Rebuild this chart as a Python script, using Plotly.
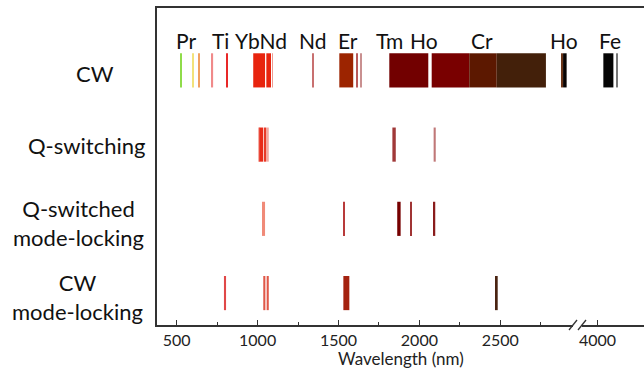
import plotly.graph_objects as go

# ---------------- data (wavelengths in nm) ----------------
rows = ["CW", "Q-switching", "Q-switched<br>mode-locking", "CW<br>mode-locking"]
row_pos = [3, 2, 1, 0]

# CW bands
cw_start = [521, 599, 636, 718, 805, 973, 1054, 1089, 1338, 1505, 1613, 1636,
            1814, 2076, 2308, 2478, 2881, 2888, 4036, 4117]
cw_end =   [528, 606, 643, 725, 813, 1046, 1083, 1094, 1344, 1591, 1619, 1642,
            2055, 2308, 2478, 2782, 2888, 2910, 4098, 4122]
cw_color = ["#8fdc4a", "#f2e27a", "#f0a060", "#f08a8a", "#e82828", "#e8240e",
            "#e8240e", "#f09a90", "#c87070", "#9c2400", "#b85a5a", "#c99090",
            "#720000", "#790000", "#5c1800", "#43200a", "#6a3418", "#080404",
            "#050505", "#777777"]

# Q-switching
qs_start = [1003, 1010, 1044, 1052, 1833, 2088]
qs_end =   [1010, 1035, 1052, 1069, 1854, 2101]
qs_color = ["#f4b0a8", "#e82a18", "#e83a28", "#f4a8a0", "#a03838", "#c07878"]

# Q-switched mode-locking
qsml_start = [1027, 1530, 1863, 1942, 2088]
qsml_end =   [1046, 1540, 1884, 1953, 2098]
qsml_color = ["#f08a78", "#b83a3a", "#760000", "#a03434", "#8a1c1c"]

# CW mode-locking
cwml_start = [792, 1035, 1056, 1530, 2473]
cwml_end =   [805, 1048, 1069, 1567, 2484]
cwml_color = ["#e04848", "#e05848", "#e05848", "#a42210", "#4a2412"]

# Element labels
elem_names = ["Pr", "Ti", "YbNd", "Nd", "Er", "Tm", "Ho", "Cr", "Ho", "Fe"]
elem_pos = [557, 768, 1021, 1339, 1559, 1818, 2028, 2387, 2894, 4077]

# axis ticks
main_ticks = [500, 1000, 1500, 2000, 2500]
break_ticks = [4000]

BREAK = 3000
FONT = "Lato"

fig = go.Figure()

series = [
    (3, cw_start, cw_end, cw_color),
    (2, qs_start, qs_end, qs_color),
    (1, qsml_start, qsml_end, qsml_color),
    (0, cwml_start, cwml_end, cwml_color),
]

for ypos, st, en, col in series:
    for axis, cond in (("x", lambda v: v < BREAK), ("x2", lambda v: v >= BREAK)):
        idx = [i for i, s in enumerate(st) if cond(s)]
        if not idx:
            continue
        fig.add_trace(go.Bar(
            orientation="h",
            y=[ypos] * len(idx),
            base=[st[i] for i in idx],
            x=[en[i] - st[i] for i in idx],
            marker=dict(color=[col[i] for i in idx], line=dict(width=0)),
            width=0.46,
            xaxis=axis, yaxis="y",
            showlegend=False, hoverinfo="skip",
        ))

# element labels
for name, pos in zip(elem_names, elem_pos):
    fig.add_annotation(x=pos, y=3.4, xref="x2" if pos >= BREAK else "x", yref="y",
                       text=name, showarrow=False,
                       font=dict(family=FONT, size=21, color="#111"))

# row labels (centre positions in pixels)
label_px = [95, 86, 78, 77]
label_shift = [-3, -1, -4, -4]
for name, ypos, lx, sh in zip(rows, row_pos, label_px, label_shift):
    fig.add_annotation(x=(lx - 157) / 487, y=ypos, xref="paper", yref="y", text=name,
                       showarrow=False, xanchor="center", yanchor="middle",
                       align="center", yshift=sh,
                       font=dict(family=FONT, size=22, color="#111"))

# axis title
fig.add_annotation(x=(401 - 157) / 487, y=-0.105, xref="paper", yref="paper",
                   text="Wavelength (nm)", showarrow=False, yanchor="middle",
                   font=dict(family=FONT, size=17, color="#222"))

# axis break marks
def px(xp):
    return (xp - 157) / 487

def py(yp):
    return (325 - yp) / 317

fig.add_shape(type="rect", xref="paper", yref="paper", x0=px(573), x1=px(582),
              y0=py(328), y1=py(322), fillcolor="white", line=dict(width=0),
              layer="above")
for x0 in (569, 578):
    fig.add_shape(type="line", xref="paper", yref="paper", x0=px(x0), y0=py(330),
                  x1=px(x0 + 8), y1=py(320), line=dict(color="#333", width=1.3),
                  layer="above")

axis_common = dict(showline=True, linecolor="#333", linewidth=1.5, mirror=True,
                   showgrid=False, zeroline=False, ticks="inside", ticklen=5,
                   tickcolor="#333", tickwidth=1,
                   tickfont=dict(family=FONT, size=16, color="#222"))

fig.update_layout(
    width=644, height=375,
    margin=dict(l=157, r=0, t=8, b=50),
    paper_bgcolor="white", plot_bgcolor="white",
    barmode="overlay",
    xaxis=dict(domain=[0, 0.8583], range=[378.2, 2961.7], tickvals=main_ticks,
               minor=dict(ticks="inside", ticklen=3, dtick=250, tick0=250,
                          tickcolor="#333"),
               **axis_common),
    xaxis2=dict(domain=[0.8583, 1], range=[3861, 4287], tickvals=break_ticks,
                anchor="y", **axis_common),
    yaxis=dict(range=[-0.43, 3.84], showline=True, linecolor="#333", linewidth=1.5,
               showgrid=False, zeroline=False, showticklabels=False, ticks=""),
)

fig.write_html("out.html")
